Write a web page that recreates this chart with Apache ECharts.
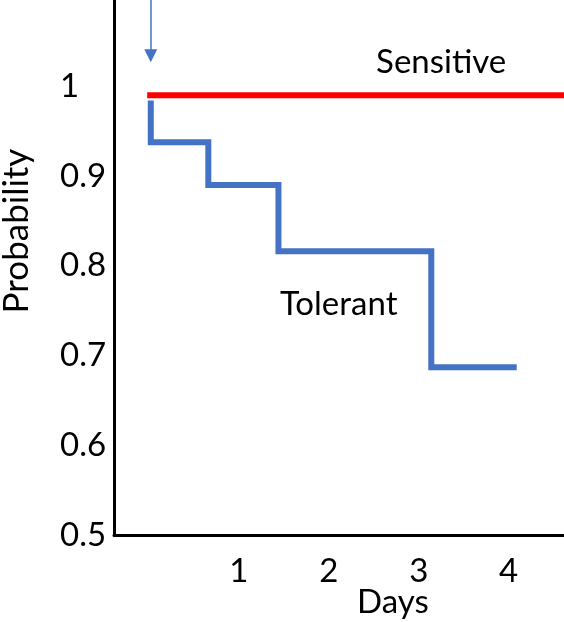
<!DOCTYPE html>
<html>
<head>
<meta charset="utf-8">
<script src="https://cdn.jsdelivr.net/npm/echarts@6/dist/echarts.min.js"></script>
<style>html,body{margin:0;padding:0;background:#fff;}#c{width:564px;height:622px;}</style>
</head>
<body>
<div id="c"></div>
<script>
// Data
const xTickValues = [1, 2, 3, 4];
const yTickValues = [0.5, 0.6, 0.7, 0.8, 0.9, 1.0];
const sensitiveDays = [-0.02, 4.62];
const sensitiveProb = [0.990, 0.990];
const tolerantDays = [0.02, 0.02, 0.66, 1.44, 3.14, 4.09];
const tolerantProb = [0.984, 0.9376, 0.890, 0.816, 0.687, 0.687];
const arrowDay = 0.02;
const arrowFrom = 1.096;
const arrowTo = 1.034;
const labels = [
  { text: 'Sensitive', day: 3.25, prob: 1.027 },
  { text: 'Tolerant', day: 2.11, prob: 0.757 }
];

const FONT = 'Lato';
const FS = 33;
const chart = echarts.init(document.getElementById('c'), null, { renderer: 'canvas' });
const zip = (a, b) => a.map((v, i) => [v, b[i]]);

chart.setOption({
  animation: false,
  backgroundColor: '#ffffff',
  grid: { left: 114, right: 0, top: 0, bottom: 87, containLabel: false },
  xAxis: {
    type: 'value', min: -0.389, max: 4.616,
    splitLine: { show: false },
    axisLine: { show: true, lineStyle: { color: '#000', width: 3 } },
    axisTick: { show: false },
    axisLabel: {
      customValues: xTickValues, color: '#000', fontFamily: FONT, fontSize: FS,
      margin: 20, formatter: v => String(v)
    }
  },
  yAxis: {
    type: 'value', min: 0.5, max: 1.096, interval: 0.1,
    splitLine: { show: false },
    axisLine: { show: true, onZero: false, lineStyle: { color: '#000', width: 3 } },
    axisTick: { show: false },
    axisLabel: {
      customValues: yTickValues, color: '#000', fontFamily: FONT, fontSize: FS,
      align: 'left', margin: 54, formatter: v => String(+v.toFixed(1))
    }
  },
  graphic: [
    { type: 'text', left: 357, top: 586, style: { text: 'Days', fill: '#000', font: FS + 'px ' + FONT } },
    { type: 'text', x: 17, y: 231, rotation: Math.PI / 2,
      style: { text: 'Probability', fill: '#000', font: '35px ' + FONT, align: 'center', verticalAlign: 'middle' } }
  ],
  series: [
    {
      name: 'Sensitive', type: 'line', data: zip(sensitiveDays, sensitiveProb),
      showSymbol: false, symbol: 'none',
      lineStyle: { color: '#ff0000', width: 6, cap: 'butt' }, z: 3
    },
    {
      name: 'Tolerant', type: 'line', step: 'end', data: zip(tolerantDays, tolerantProb),
      showSymbol: false, symbol: 'none',
      lineStyle: { color: '#4472c4', width: 6, cap: 'butt', join: 'miter' }, z: 2,
      markPoint: {
        symbol: 'circle', symbolSize: 0,
        label: { show: true, position: 'inside', color: '#000', fontFamily: FONT, fontSize: FS,
                 formatter: p => p.name },
        data: labels.map(l => ({ name: l.text, coord: [l.day, l.prob] }))
      },
      markLine: {
        silent: true, symbol: ['none', 'triangle'], symbolSize: [13, 13],
        lineStyle: { color: '#4472c4', width: 1.5, type: 'solid' },
        label: { show: false },
        data: [[{ coord: [arrowDay, arrowFrom] }, { coord: [arrowDay, arrowTo] }]]
      }
    }
  ]
});
</script>
</body>
</html>
